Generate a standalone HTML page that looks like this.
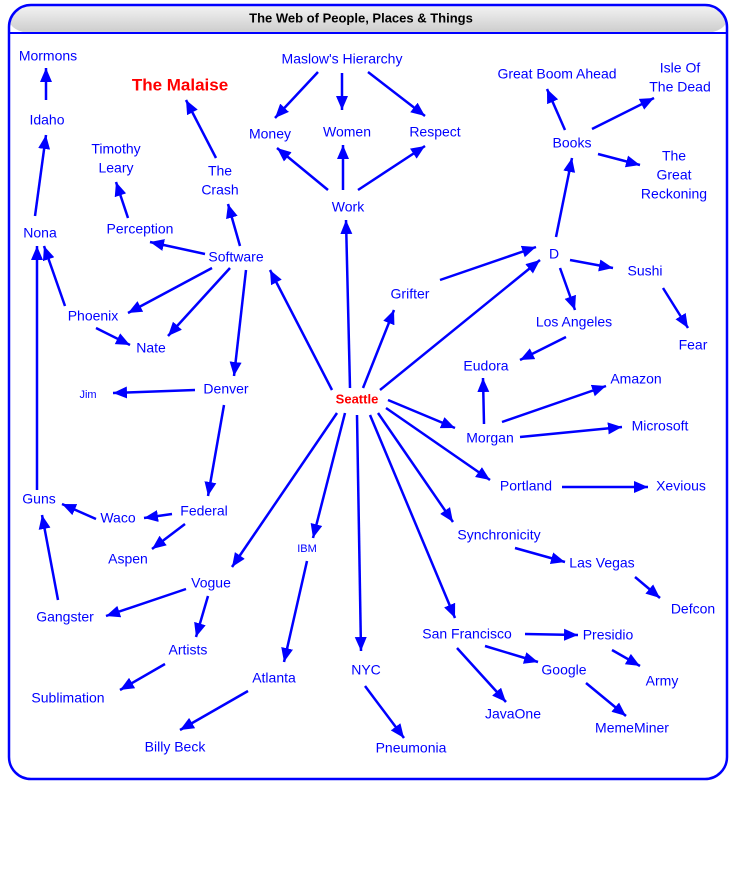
<!DOCTYPE html>
<html><head><meta charset="utf-8"><style>
html,body{margin:0;padding:0;background:#fff;width:732px;height:879px;overflow:hidden}
svg{position:absolute;left:0;top:0}
text{font-family:"Liberation Sans",sans-serif;font-size:14px;fill:#0000ff;text-anchor:middle;dominant-baseline:middle}
</style></head><body>
<svg width="732" height="879" viewBox="0 0 732 879">
<defs>
<linearGradient id="g" x1="0" y1="0" x2="0" y2="1"><stop offset="0" stop-color="#f4f4f4"/><stop offset="0.5" stop-color="#d0d0d0"/><stop offset="1" stop-color="#f0f0f0"/></linearGradient>
<marker id="a" markerUnits="userSpaceOnUse" markerWidth="16" markerHeight="14" refX="14" refY="6" orient="auto"><path d="M0,0 L14,6 L0,12 Z" fill="#0000ff"/></marker>
<clipPath id="c"><rect x="9" y="5" width="718" height="28" rx="22"/></clipPath>
</defs>
<rect x="9" y="5" width="718" height="774" rx="22" fill="#fff"/>
<rect x="9" y="5" width="718" height="50" rx="22" fill="url(#g)" clip-path="url(#c)"/>
<line x1="9" y1="33" x2="727" y2="33" stroke="#0000ff" stroke-width="2"/>
<rect x="9" y="5" width="718" height="774" rx="22" fill="none" stroke="#0000ff" stroke-width="2.5"/>
<text x="361" y="19" style="fill:#000;font-weight:bold;font-size:13px">The Web of People, Places &amp; Things</text>
<g stroke="#0000ff" stroke-width="2.5" marker-end="url(#a)" fill="none">
<line x1="46" y1="100" x2="46" y2="68"/>
<line x1="35" y1="216" x2="46" y2="135"/>
<line x1="65" y1="306" x2="44" y2="246"/>
<line x1="96" y1="328" x2="130" y2="345"/>
<line x1="37" y1="490" x2="37" y2="246"/>
<line x1="58" y1="600" x2="42" y2="515"/>
<line x1="96" y1="519" x2="62" y2="504"/>
<line x1="212" y1="268" x2="128" y2="313"/>
<line x1="230" y1="268" x2="168" y2="336"/>
<line x1="205" y1="254" x2="150" y2="242"/>
<line x1="240" y1="246" x2="228" y2="204"/>
<line x1="246" y1="270" x2="234" y2="376"/>
<line x1="128" y1="218" x2="116" y2="182"/>
<line x1="216" y1="158" x2="186" y2="100"/>
<line x1="195" y1="390" x2="113" y2="393"/>
<line x1="224" y1="405" x2="208" y2="496"/>
<line x1="172" y1="514" x2="144" y2="518"/>
<line x1="185" y1="524" x2="152" y2="549"/>
<line x1="332" y1="390" x2="270" y2="270"/>
<line x1="350" y1="388" x2="346" y2="220"/>
<line x1="328" y1="190" x2="277" y2="148"/>
<line x1="343" y1="190" x2="343" y2="145"/>
<line x1="358" y1="190" x2="425" y2="146"/>
<line x1="318" y1="72" x2="275" y2="118"/>
<line x1="342" y1="73" x2="342" y2="110"/>
<line x1="368" y1="72" x2="425" y2="116"/>
<line x1="363" y1="388" x2="394" y2="310"/>
<line x1="380" y1="390" x2="540" y2="260"/>
<line x1="440" y1="280" x2="536" y2="247"/>
<line x1="556" y1="237" x2="572" y2="158"/>
<line x1="565" y1="130" x2="547" y2="89"/>
<line x1="592" y1="129" x2="654" y2="98"/>
<line x1="598" y1="154" x2="640" y2="165"/>
<line x1="570" y1="260" x2="613" y2="268"/>
<line x1="663" y1="288" x2="688" y2="328"/>
<line x1="560" y1="268" x2="575" y2="310"/>
<line x1="566" y1="337" x2="520" y2="360"/>
<line x1="484" y1="424" x2="483" y2="378"/>
<line x1="502" y1="422" x2="606" y2="386"/>
<line x1="520" y1="437" x2="622" y2="427"/>
<line x1="388" y1="400" x2="455" y2="428"/>
<line x1="386" y1="408" x2="490" y2="480"/>
<line x1="562" y1="487" x2="648" y2="487"/>
<line x1="378" y1="413" x2="453" y2="522"/>
<line x1="515" y1="548" x2="565" y2="562"/>
<line x1="635" y1="577" x2="660" y2="598"/>
<line x1="370" y1="415" x2="455" y2="618"/>
<line x1="525" y1="634" x2="578" y2="635"/>
<line x1="612" y1="650" x2="640" y2="666"/>
<line x1="485" y1="646" x2="538" y2="662"/>
<line x1="586" y1="683" x2="626" y2="716"/>
<line x1="457" y1="648" x2="506" y2="702"/>
<line x1="357" y1="415" x2="361" y2="651"/>
<line x1="365" y1="686" x2="404" y2="738"/>
<line x1="345" y1="413" x2="313" y2="538"/>
<line x1="307" y1="561" x2="284" y2="662"/>
<line x1="248" y1="691" x2="180" y2="730"/>
<line x1="337" y1="413" x2="232" y2="567"/>
<line x1="186" y1="589" x2="106" y2="616"/>
<line x1="208" y1="596" x2="196" y2="637"/>
<line x1="165" y1="664" x2="120" y2="690"/>
</g>
<text x="48" y="57">Mormons</text>
<text x="47" y="121">Idaho</text>
<text x="40" y="234">Nona</text>
<text x="93" y="317">Phoenix</text>
<text x="151" y="349">Nate</text>
<text x="88" y="395" style="font-size:11px">Jim</text>
<text x="39" y="500">Guns</text>
<text x="65" y="618">Gangster</text>
<text x="118" y="519">Waco</text>
<text x="128" y="560">Aspen</text>
<text x="204" y="512">Federal</text>
<text x="226" y="390">Denver</text>
<text x="236" y="258">Software</text>
<text x="140" y="230">Perception</text>
<text x="116" y="150">Timothy</text>
<text x="116" y="169">Leary</text>
<text x="220" y="172">The</text>
<text x="220" y="191">Crash</text>
<text x="180" y="86" style="fill:#ff0000;font-weight:bold;font-size:17px">The Malaise</text>
<text x="342" y="60">Maslow's Hierarchy</text>
<text x="270" y="135">Money</text>
<text x="347" y="133">Women</text>
<text x="435" y="133">Respect</text>
<text x="348" y="208">Work</text>
<text x="410" y="295">Grifter</text>
<text x="554" y="255">D</text>
<text x="572" y="144">Books</text>
<text x="557" y="75">Great Boom Ahead</text>
<text x="680" y="69">Isle Of</text>
<text x="680" y="88">The Dead</text>
<text x="674" y="157">The</text>
<text x="674" y="176">Great</text>
<text x="674" y="195">Reckoning</text>
<text x="645" y="272">Sushi</text>
<text x="693" y="346">Fear</text>
<text x="574" y="323">Los Angeles</text>
<text x="486" y="367">Eudora</text>
<text x="636" y="380">Amazon</text>
<text x="490" y="439">Morgan</text>
<text x="660" y="427">Microsoft</text>
<text x="526" y="487">Portland</text>
<text x="681" y="487">Xevious</text>
<text x="357" y="400" style="fill:#ff0000;font-weight:bold;font-size:13px">Seattle</text>
<text x="499" y="536">Synchronicity</text>
<text x="602" y="564">Las Vegas</text>
<text x="693" y="610">Defcon</text>
<text x="467" y="635">San Francisco</text>
<text x="608" y="636">Presidio</text>
<text x="662" y="682">Army</text>
<text x="564" y="671">Google</text>
<text x="632" y="729">MemeMiner</text>
<text x="513" y="715">JavaOne</text>
<text x="366" y="671">NYC</text>
<text x="411" y="749">Pneumonia</text>
<text x="307" y="549" style="font-size:11px">IBM</text>
<text x="274" y="679">Atlanta</text>
<text x="175" y="748">Billy Beck</text>
<text x="211" y="584">Vogue</text>
<text x="188" y="651">Artists</text>
<text x="68" y="699">Sublimation</text>
</svg>
</body></html>
